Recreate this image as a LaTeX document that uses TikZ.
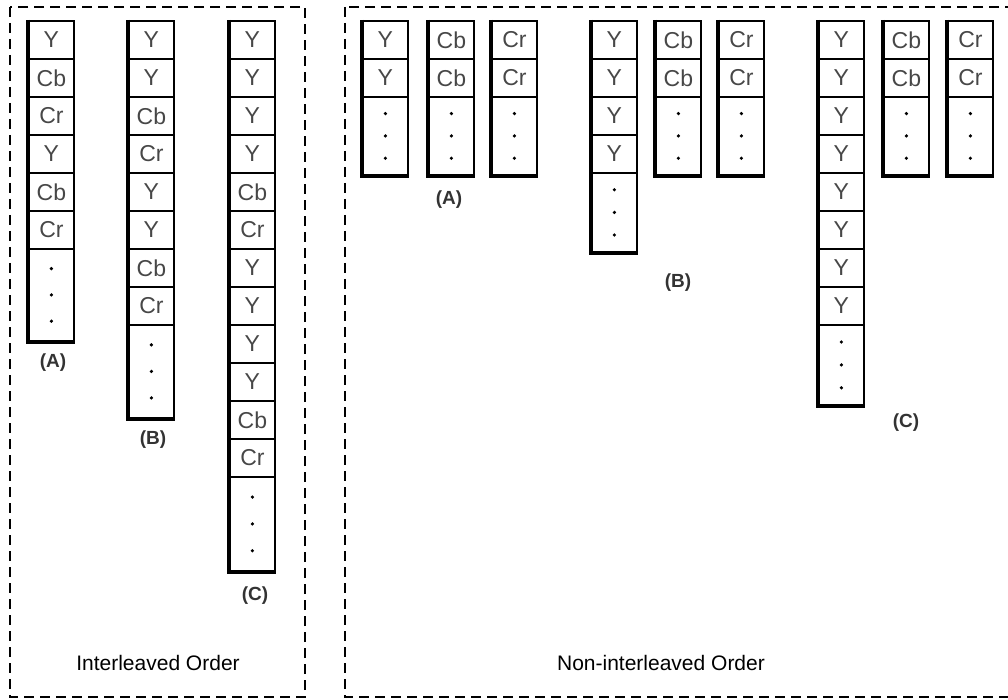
\documentclass[tikz,border=0pt]{standalone}
\usepackage{fontspec}
\setmainfont{Liberation Sans}
\usetikzlibrary{calc}
\tikzset{
  cell/.style={draw, line width=1.8pt, minimum width=45pt, minimum height=38pt, inner sep=0pt, anchor=north west, text=black!72, font=\fontsize{23}{23}\selectfont},
  dotcell/.style={draw, line width=1.8pt, minimum width=45pt, inner sep=0pt, anchor=north west},
  shadeline/.style={line width=3.8pt},
  lbl/.style={font=\bfseries\fontsize{19}{19}\selectfont, text=black!80},
  titletext/.style={font=\fontsize{21}{21}\selectfont, text=black},
  frame/.style={dash pattern=on 10pt off 6pt, line width=2.2pt}
}
\newcommand{\memcol}[5]{%
  \foreach \txt [count=\i] in {#4}{
    \node[cell] (#1-\i) at (#2,{20+(\i-1)*38}) {\txt};
  }
  \node[dotcell, minimum height=#5pt] (#1-d) at (#2,{20+#3*38}) {};
  \foreach \k in {0.22,0.5,0.78}{
    \fill ($(#1-d.north)!\k!(#1-d.south)$) circle (1.8pt);
  }
  \draw[shadeline] (#1-1.north west) -- (#1-d.south west) -- (#1-d.south east);
}
\begin{document}
\begin{tikzpicture}[x=1pt,y=-1pt]
\useasboundingbox (0,0) rectangle (1008,700);
% frames
\draw[frame] (10,7) rectangle (305,697);
\draw[frame] (345,7) rectangle (1030,697);
% interleaved
\memcol{LA}{28}{6}{Y,Cb,Cr,Y,Cb,Cr}{92}
\memcol{LB}{128}{8}{Y,Y,Cb,Cr,Y,Y,Cb,Cr}{93}
\memcol{LC}{229}{12}{Y,Y,Y,Y,Cb,Cr,Y,Y,Y,Y,Cb,Cr}{94}
\node[lbl] (labLA) at (53,363) {(A)};
\node[lbl] (labLB) at (153,440) {(B)};
\node[lbl] (labLC) at (255,596) {(C)};
% non-interleaved
\memcol{RAY}{362}{2}{Y,Y}{78}
\memcol{RACb}{428}{2}{Cb,Cb}{78}
\memcol{RACr}{491}{2}{Cr,Cr}{78}
\memcol{RBY}{591}{4}{Y,Y,Y,Y}{79}
\memcol{RBCb}{655}{2}{Cb,Cb}{78}
\memcol{RBCr}{718}{2}{Cr,Cr}{78}
\memcol{RCY}{818}{8}{Y,Y,Y,Y,Y,Y,Y,Y}{80}
\memcol{RCCb}{883}{2}{Cb,Cb}{78}
\memcol{RCCr}{947}{2}{Cr,Cr}{78}
\node[lbl] (labRA) at (449,200) {(A)};
\node[lbl] (labRB) at (678,283) {(B)};
\node[lbl] (labRC) at (906,423) {(C)};
% titles
\node[titletext] (tInt) at (158,663) {Interleaved Order};
\node[titletext] (tNon) at (661,663) {Non-interleaved Order};
\end{tikzpicture}
\end{document}
